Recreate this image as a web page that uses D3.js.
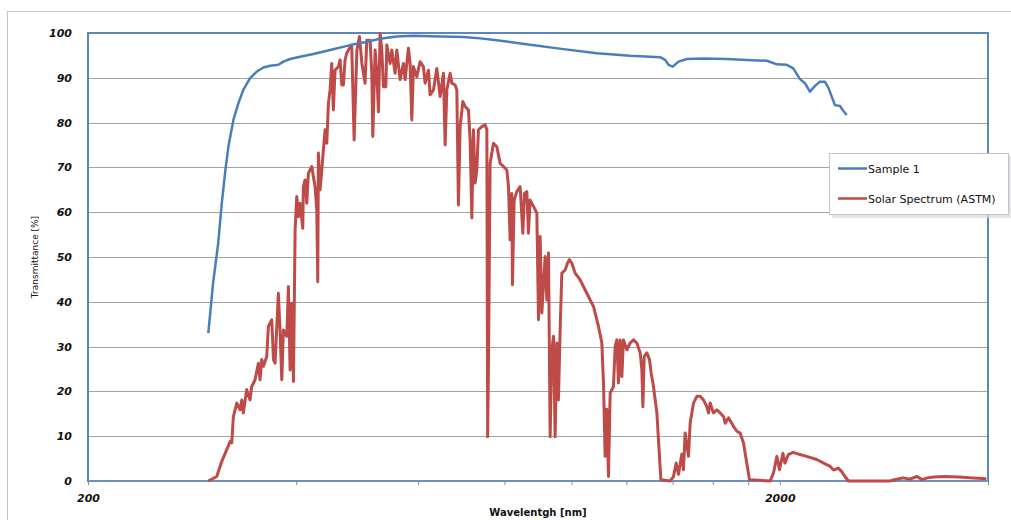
<!DOCTYPE html>
<html>
<head>
<meta charset="utf-8">
<script src="https://cdn.jsdelivr.net/npm/d3@7"></script>
<style>
    body { margin: 0; background: #fff; }
    svg { display: block; }
</style>
</head>
<body>
<div id="chart"></div>
<script>
// x axis (log scale, nm)
let xTicks = [200, 400, 600, 800, 1000, 1200, 1400, 1600, 1800, 2000, 4000];
let xTickLabels = [200, 2000];
let yTicks = [0, 10, 20, 30, 40, 50, 60, 70, 80, 90, 100];

let seriesNames = ["Sample 1", "Solar Spectrum (ASTM)"];

// [wavelength nm, transmittance %]
let sample1 = [[298.5,33.0],[303.3,44.2],[308.5,53.1],[312.2,62.0],[315.6,68.7],[319.1,74.6],[324.5,80.6],[329.9,84.3],[335.4,87.3],[343.0,89.9],[350.8,91.4],[358.6,92.3],[366.6,92.7],[376.9,92.9],[383.3,93.6],[391.9,94.2],[405.1,94.7],[423.5,95.3],[447.7,96.2],[478.5,97.3],[500.3,97.9],[528.8,98.7],[559.0,99.2],[590.8,99.4],[624.6,99.3],[698.5,99.1],[737.7,98.8],[779.9,98.4],[824.2,97.9],[871.3,97.4],[973.5,96.4],[1088,95.5],[1215.5,94.9],[1343.2,94.6],[1365.7,94.0],[1380.9,92.9],[1401,92.5],[1427.6,93.6],[1467.6,94.2],[1551.6,94.3],[1677.2,94.2],[1792.5,94.0],[1916,93.8],[1981,93.0],[2047,92.9],[2092,92.1],[2139,89.7],[2175,88.8],[2211,86.9],[2249,88.2],[2286,89.1],[2325,89.1],[2351,87.8],[2378,85.8],[2403,83.9],[2444,83.7],[2466,82.8],[2499,81.7]];

// [wavelength nm, relative irradiance %]
let solarSpectrum = [[298.5,0],[307.0,1.0],[312.2,4.4],[317.4,7.0],[320.9,8.8],[322.7,8.5],[324.5,14.4],[328.2,17.4],[331.8,15.9],[333.7,18.1],[335.4,15.2],[339.2,20.4],[343.0,18.1],[344.9,21.1],[348.8,22.6],[352.6,26.3],[354.6,22.6],[356.6,27.1],[358.6,25.6],[362.6,27.8],[364.6,34.5],[368.7,36.0],[370.8,27.1],[372.8,26.3],[376.9,41.9],[379.0,33.7],[381.2,22.6],[383.3,33.7],[387.6,32.3],[389.7,43.4],[391.9,24.8],[394.1,39.7],[396.3,22.2],[398.5,56.1],[400.7,63.5],[402.9,59.0],[405.1,62.0],[408.8,56.4],[409.6,65.7],[411.9,67.2],[414.3,62.0],[416.5,68.7],[421.3,70.2],[423.5,67.9],[425.9,65.7],[428.3,60.5],[429.7,44.5],[430.6,73.2],[433.0,65.0],[435.5,69.4],[437.8,73.9],[440.3,78.4],[442.8,75.4],[445.2,84.3],[447.7,87.3],[450.2,93.2],[452.6,82.8],[455.2,91.7],[460.3,92.5],[462.9,94.0],[465.5,88.4],[468.0,88.4],[470.6,94.0],[473.3,95.5],[478.5,96.9],[481.2,96.9],[485.0,76.1],[489.5,96.2],[493.7,99.2],[497.7,93.2],[500.3,91.0],[503.0,88.8],[505.9,98.4],[511.5,98.4],[514.4,91.0],[516.1,76.9],[520.1,96.2],[523.0,91.0],[525.9,82.4],[528.8,99.9],[531.8,96.2],[534.7,88.0],[539.0,88.0],[540.7,97.3],[546.7,93.2],[549.8,96.2],[555.9,91.0],[559.0,96.2],[565.2,89.6],[571.5,93.2],[574.7,89.6],[581.1,96.6],[584.3,93.2],[587.7,80.6],[590.8,92.5],[597.5,90.2],[604.1,93.6],[610.8,92.5],[614.3,88.8],[621.2,91.7],[624.6,86.2],[631.6,87.3],[638.7,92.1],[645.7,85.8],[652.9,91.0],[656.6,75.0],[660.3,87.3],[667.6,91.0],[671.4,88.8],[678.8,88.4],[682.7,87.3],[686.3,61.6],[690.2,79.1],[696.5,84.7],[701.8,83.6],[709.6,82.8],[713.6,76.1],[717.6,58.7],[721.5,78.4],[725.5,66.5],[729.6,69.4],[733.6,78.4],[741.9,79.1],[750.1,79.5],[754.4,78.4],[756.4,9.9],[758.5,26.4],[762.7,70.9],[771.2,75.4],[779.9,74.6],[788.5,70.9],[797.2,70.2],[806.3,69.4],[810.7,65.7],[815.2,53.8],[819.8,64.2],[821.5,43.8],[826.1,62.7],[833.6,64.6],[842.8,65.7],[850.4,55.3],[855.0,64.2],[861.8,64.6],[866.4,55.3],[871.3,62.7],[881.1,61.3],[891.0,59.8],[895.9,36.0],[900.8,54.6],[906.0,37.5],[915.9,50.1],[921.1,40.4],[926.2,50.9],[931.3,9.9],[936.6,29.3],[941.9,32.3],[946.9,9.9],[952.3,30.8],[957.5,18.1],[962.8,33.7],[968.3,46.4],[979.0,47.1],[986.5,48.6],[993.1,49.4],[1001.1,48.6],[1012.1,46.4],[1029.1,44.9],[1052.3,41.9],[1076.2,38.9],[1093.9,34.5],[1106.2,30.8],[1112.3,21.9],[1118.4,5.5],[1124.6,16.0],[1130.9,1.0],[1137.2,19.6],[1149.8,21.1],[1156.3,30.0],[1162.9,31.5],[1169.1,21.9],[1175.7,31.5],[1182.3,23.3],[1188.7,31.5],[1202.2,29.3],[1215.5,30.8],[1229.1,31.5],[1242.9,30.8],[1256.7,28.6],[1263.9,24.8],[1268.1,16.6],[1273.5,27.8],[1285.0,28.6],[1296.2,27.1],[1303.6,24.1],[1313.6,21.1],[1328.6,15.2],[1335.7,9.2],[1346.5,0.3],[1388.6,0],[1404.0,1.0],[1416.7,4.0],[1427.6,1.5],[1443.8,6.0],[1451.5,2.5],[1459.7,10.7],[1476.0,5.5],[1484.2,12.9],[1500.8,17.4],[1517.6,18.9],[1534.5,18.9],[1551.6,18.1],[1569.0,16.6],[1577.4,15.2],[1586.4,17.4],[1604.1,15.2],[1622.3,15.9],[1640.1,15.2],[1658.4,14.4],[1667.7,12.9],[1686.3,14.1],[1714.5,12.2],[1734.0,11.1],[1753.1,10.7],[1772.6,8.5],[1788.5,4.8],[1808.4,0.3],[1937.2,0],[1958.8,1.8],[1980.9,5.5],[1998.2,2.5],[2021.3,6.2],[2034.8,4.0],[2057.5,5.9],[2092.1,6.4],[2139,5.9],[2187,5.5],[2262,4.8],[2341,3.6],[2364,3.3],[2390,2.5],[2403,2.5],[2430,2.9],[2458,2.1],[2485,1.0],[2513,0],[2886,0],[2951,0.4],[3017,0.7],[3084,0.4],[3157,1.0],[3212,0.3],[3268,0.7],[3345,0.9],[3465,1.0],[3629,0.9],[3766,0.7],[3978,0.5]];

let colors = ["#4a7ebb", "#be4b48"];

let width = 1011, height = 520;
let plot = {left: 88, right: 988, top: 33, bottom: 481};

let svg = d3.select("#chart").append("svg")
    .attr("width", width)
    .attr("height", height);

// outer chart border
svg.append("rect")
    .attr("x", 7.5).attr("y", 11.5)
    .attr("width", 1020).attr("height", 530)
    .attr("fill", "#fff")
    .attr("stroke", "#c4c4c4");

let xScale = d3.scaleLog()
    .domain([200, 4000])
    .range([plot.left, plot.right]);

let yScale = d3.scaleLinear()
    .domain([0, 100])
    .range([plot.bottom, plot.top]);

// horizontal gridlines
svg.append("g")
    .selectAll("line")
    .data(yTicks.filter(d => d > 0 && d < 100))
    .enter()
    .append("line")
    .attr("x1", plot.left).attr("x2", plot.right)
    .attr("y1", d => Math.round(yScale(d)) + 0.5)
    .attr("y2", d => Math.round(yScale(d)) + 0.5)
    .attr("stroke", "#a3a3a3")
    .attr("stroke-width", 1.2);

// y axis
let yAxis = svg.append("g")
    .attr("transform", "translate(" + plot.left + ",0)")
    .call(d3.axisLeft(yScale).tickValues(yTicks).tickSize(0).tickPadding(16));
yAxis.select(".domain").remove();
yAxis.selectAll("text")
    .attr("font-family", "DejaVu Sans, Verdana, sans-serif")
    .attr("font-size", 11)
    .attr("font-weight", "bold")
    .attr("font-style", "italic")
    .attr("fill", "#111");

// x axis
let xAxis = svg.append("g")
    .attr("transform", "translate(0," + plot.bottom + ")")
    .call(d3.axisBottom(xScale)
        .tickValues(xTicks)
        .tickSize(4)
        .tickPadding(9)
        .tickFormat(d => xTickLabels.indexOf(d) >= 0 ? d : ""));
xAxis.select(".domain").remove();
xAxis.selectAll("line").attr("stroke", "#8a8a8a");
xAxis.selectAll("text")
    .attr("font-family", "DejaVu Sans, Verdana, sans-serif")
    .attr("font-size", 11)
    .attr("font-weight", "bold")
    .attr("font-style", "italic")
    .attr("fill", "#111");

// plot frame (blue)
svg.append("rect")
    .attr("x", plot.left).attr("y", plot.top)
    .attr("width", plot.right - plot.left)
    .attr("height", plot.bottom - plot.top)
    .attr("fill", "none")
    .attr("stroke", "#5b86c0")
    .attr("stroke-width", 2);
svg.append("line")
    .attr("x1", plot.left).attr("x2", plot.right)
    .attr("y1", plot.bottom).attr("y2", plot.bottom)
    .attr("stroke", "#7394c4")
    .attr("stroke-width", 1.5);

// series lines
let line = d3.line()
    .x(d => xScale(d[0]))
    .y(d => yScale(d[1]));

svg.append("path")
    .datum(solarSpectrum)
    .attr("d", line)
    .attr("fill", "none")
    .attr("stroke", colors[1])
    .attr("stroke-width", 3)
    .attr("stroke-linejoin", "round");

svg.append("path")
    .datum(sample1)
    .attr("d", line)
    .attr("fill", "none")
    .attr("stroke", colors[0])
    .attr("stroke-width", 2.5)
    .attr("stroke-linejoin", "round");

// axis titles
svg.append("text")
    .attr("transform", "translate(38," + ((plot.top + plot.bottom) / 2) + ") rotate(-90)")
    .attr("text-anchor", "middle")
    .attr("font-family", "DejaVu Sans, Verdana, sans-serif")
    .attr("font-size", 9)
    .attr("fill", "#111")
    .text("Transmittance [%]");

svg.append("text")
    .attr("x", (plot.left + plot.right) / 2)
    .attr("y", 516)
    .attr("text-anchor", "middle")
    .attr("font-family", "DejaVu Sans, Verdana, sans-serif")
    .attr("font-size", 10)
    .attr("font-weight", "bold")
    .attr("fill", "#111")
    .text("Wavelentgh [nm]");

// legend
let legend = svg.append("g").attr("transform", "translate(829,153)");
legend.append("rect")
    .attr("x", 3).attr("y", 3)
    .attr("width", 180).attr("height", 62)
    .attr("fill", "#d8d8d8")
    .attr("opacity", 0.7);
legend.append("rect")
    .attr("x", 0.5).attr("y", 0.5)
    .attr("width", 179).attr("height", 61)
    .attr("fill", "#fff")
    .attr("stroke", "#b8c6da");

seriesNames.forEach(function(name, i) {
    let yy = 15.5 + i * 30;
    legend.append("line")
        .attr("x1", 9).attr("x2", 38)
        .attr("y1", yy).attr("y2", yy)
        .attr("stroke", colors[i])
        .attr("stroke-width", 2.5);
    legend.append("text")
        .attr("x", 39).attr("y", yy + 4)
        .attr("font-family", "DejaVu Sans, Verdana, sans-serif")
        .attr("font-size", 11)
        .attr("fill", "#111")
        .text(name);
});
</script>
</body>
</html>
